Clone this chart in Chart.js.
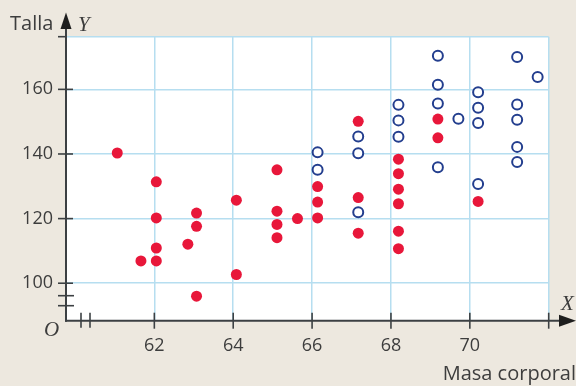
<!DOCTYPE html>
<html>
<head>
<meta charset="utf-8">
<script src="https://cdn.jsdelivr.net/npm/chart.js@4/dist/chart.umd.min.js"></script>
<style>
html,body{margin:0;padding:0;background:#ede8df;}
#wrap{width:576px;height:386px;position:relative;}
</style>
</head>
<body>
<div id="wrap"><canvas id="c" width="576" height="386"></canvas></div>
<script>
// Data (masa corporal, talla)
const redX = [61.06, 61.66, 62.05, 62.05, 62.05, 62.05, 62.85, 63.07, 63.07, 63.07, 64.08, 64.08, 65.11, 65.11, 65.11, 65.11, 65.63, 66.14, 66.14, 66.14, 67.17, 67.17, 67.17, 68.19, 68.19, 68.19, 68.19, 68.19, 68.19, 69.19, 69.19, 70.21];
const redY = [140.3, 106.9, 131.4, 120.2, 110.9, 106.9, 112.1, 121.7, 117.6, 96.0, 125.7, 102.7, 135.1, 122.3, 118.2, 114.1, 120.0, 129.9, 125.1, 120.2, 150.1, 126.5, 115.5, 138.4, 133.9, 129.1, 124.6, 116.1, 110.7, 150.8, 145.0, 125.3];
const blueX = [66.14, 66.14, 67.17, 67.17, 67.17, 68.19, 68.19, 68.19, 69.19, 69.19, 69.19, 69.19, 69.71, 70.21, 70.21, 70.21, 70.21, 71.2, 71.2, 71.2, 71.2, 71.2, 71.72];
const blueY = [140.5, 135.1, 145.4, 140.2, 122.0, 155.2, 150.4, 145.3, 170.4, 161.4, 155.6, 135.9, 150.9, 159.1, 154.3, 149.6, 130.7, 170.0, 155.3, 150.6, 142.2, 137.5, 163.8];
const xTicks = [62, 64, 66, 68, 70];
const yTicks = [100, 120, 140, 160];
const xRange = [59.76, 72];
const yRange = [88.4, 176.3];

const toPts = (xs, ys) => xs.map((x, i) => ({x: x, y: ys[i]}));

const INK = '#3d3d3d';
const AXIS = '#3c4043';
const GRID = '#b6def0';

const deco = {
  id: 'deco',
  beforeDraw(chart) {
    const {ctx, chartArea: a} = chart;
    ctx.save();
    ctx.fillStyle = '#ede8df';
    ctx.fillRect(0, 0, chart.width, chart.height);
    ctx.fillStyle = '#ffffff';
    ctx.fillRect(a.left, a.top, a.right - a.left, a.bottom - a.top);
    ctx.restore();
  },
  afterDraw(chart) {
    const {ctx, chartArea: a, scales} = chart;
    const xs = scales.x, ys = scales.y;
    ctx.save();
    ctx.strokeStyle = AXIS;
    ctx.fillStyle = '#1e1e1e';
    ctx.lineWidth = 2;
    // Y axis line
    ctx.beginPath();
    ctx.moveTo(a.left, a.bottom + 1);
    ctx.lineTo(a.left, 26);
    ctx.stroke();
    // X axis line
    ctx.beginPath();
    ctx.moveTo(a.left - 1, a.bottom);
    ctx.lineTo(562, a.bottom);
    ctx.stroke();
    // arrows
    ctx.beginPath();
    ctx.moveTo(a.left, 12.5);
    ctx.lineTo(a.left - 5.5, 29);
    ctx.lineTo(a.left + 5.5, 29);
    ctx.closePath();
    ctx.fill();
    ctx.beginPath();
    ctx.moveTo(576, a.bottom);
    ctx.lineTo(559, a.bottom - 6);
    ctx.lineTo(559, a.bottom + 6);
    ctx.closePath();
    ctx.fill();
    // y ticks
    ctx.lineWidth = 1.6;
    yTicks.forEach(v => {
      const p = ys.getPixelForValue(v);
      ctx.beginPath();
      ctx.moveTo(a.left - 8, p);
      ctx.lineTo(a.left + 7, p);
      ctx.stroke();
    });
    ctx.beginPath();
    ctx.moveTo(a.left - 8, a.top);
    ctx.lineTo(a.left, a.top);
    ctx.stroke();
    // x ticks (including end of grid)
    xTicks.concat([xRange[1]]).forEach(v => {
      const p = xs.getPixelForValue(v);
      ctx.beginPath();
      ctx.moveTo(p, a.bottom - 8);
      ctx.lineTo(p, a.bottom + 8);
      ctx.stroke();
    });
    // axis breaks
    [a.bottom - 25, a.bottom - 15].forEach(y => {
      ctx.beginPath();
      ctx.moveTo(a.left - 8, y);
      ctx.lineTo(a.left + 8, y);
      ctx.stroke();
    });
    [a.left + 15, a.left + 24].forEach(x => {
      ctx.beginPath();
      ctx.moveTo(x, a.bottom - 8);
      ctx.lineTo(x, a.bottom + 7);
      ctx.stroke();
    });
    // texts
    ctx.fillStyle = INK;
    ctx.font = '20px "Open Sans"';
    ctx.textBaseline = 'middle';
    ctx.textAlign = 'left';
    ctx.fillText('Talla', 10, 24);
    ctx.textAlign = 'right';
    ctx.fillText('Masa corporal', 576, 374);
    ctx.font = 'italic 21px "Liberation Serif"';
    ctx.textAlign = 'left';
    ctx.fillText('Y', 78, 25);
    ctx.fillText('X', 561, 304);
    ctx.fillText('O', 44, 330);
    ctx.restore();
  }
};

new Chart(document.getElementById('c'), {
  type: 'scatter',
  data: {
    datasets: [
      {
        label: 'rojo',
        data: toPts(redX, redY),
        pointRadius: 5.5,
        pointHoverRadius: 5.5,
        pointBorderWidth: 0,
        backgroundColor: '#e8173a',
        borderColor: '#e8173a'
      },
      {
        label: 'azul',
        data: toPts(blueX, blueY),
        pointRadius: 5,
        pointHoverRadius: 5,
        pointBorderWidth: 2,
        backgroundColor: '#ffffff',
        borderColor: '#233e8e'
      }
    ]
  },
  plugins: [deco],
  options: {
    responsive: false,
    animation: false,
    events: [],
    layout: {padding: {top: 36.7, right: 27.3, left: 0, bottom: 0}},
    plugins: {legend: {display: false}, tooltip: {enabled: false}},
    scales: {
      x: {
        type: 'linear',
        min: xRange[0],
        max: xRange[1],
        afterBuildTicks: s => { s.ticks = xTicks.concat([xRange[1]]).map(v => ({value: v})); },
        afterFit: s => { s.height = 65.3; },
        grid: {color: GRID, lineWidth: 1.5, drawTicks: false},
        border: {display: false},
        ticks: {
          color: INK,
          font: {family: 'Open Sans', size: 18},
          padding: 14,
          maxRotation: 0,
          autoSkip: false,
          callback: v => (xTicks.includes(v) ? String(v) : '')
        }
      },
      y: {
        type: 'linear',
        min: yRange[0],
        max: yRange[1],
        afterBuildTicks: s => { s.ticks = yTicks.concat([yRange[1]]).map(v => ({value: v})); },
        afterFit: s => { s.width = 66; },
        grid: {color: GRID, lineWidth: 1.5, drawTicks: false},
        border: {display: false},
        ticks: {
          color: INK,
          font: {family: 'Open Sans', size: 18},
          padding: 13,
          autoSkip: false,
          callback: v => (yTicks.includes(v) ? String(v) : '')
        }
      }
    }
  }
});
</script>
</body>
</html>
